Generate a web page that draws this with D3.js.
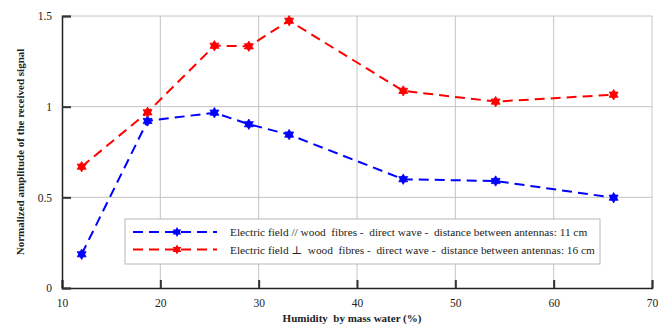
<!DOCTYPE html>
<html>
<head>
<meta charset="utf-8">
<script src="https://cdn.jsdelivr.net/npm/d3@7"></script>
<style>
  body { margin: 0; background: #fff; }
  svg text { font-family: "Liberation Serif", "DejaVu Serif", serif; white-space: pre; }
</style>
</head>
<body>
<div id="chart"></div>
<script>
const humidity = [12, 18.7, 25.5, 29, 33.1, 44.7, 54.1, 66.1];
const ampParallel = [0.186, 0.921, 0.967, 0.903, 0.846, 0.600, 0.590, 0.498];
const ampPerp = [0.669, 0.969, 1.336, 1.333, 1.474, 1.087, 1.028, 1.066];
const xTicks = [10, 20, 30, 40, 50, 60, 70];
const yTicks = [0, 0.5, 1, 1.5];
const seriesNames = [
  "Electric field // wood  fibres -  direct wave -  distance between antennas: 11 cm",
  "Electric field \u22a5  wood  fibres -  direct wave -  distance between antennas: 16 cm"
];
const seriesColors = ["#0000ff", "#ff0000"];

const W = 667, H = 325;
const margin = { top: 16, right: 15, bottom: 37, left: 62 };
const width = W - margin.left - margin.right;
const height = H - margin.top - margin.bottom;

const svg = d3.select("#chart").append("svg")
  .attr("width", W).attr("height", H);
const g = svg.append("g").attr("transform", `translate(${margin.left},${margin.top})`);

const x = d3.scaleLinear().domain([10, 70]).range([0, width]);
const y = d3.scaleLinear().domain([0, 1.5]).range([height, 0]);

// grid
g.selectAll(".vgrid").data(xTicks.slice(1)).enter().append("line")
  .attr("x1", d => x(d)).attr("x2", d => x(d))
  .attr("y1", 0).attr("y2", height)
  .attr("stroke", "#c4c4c4").attr("stroke-width", 1);
g.selectAll(".hgrid").data(yTicks.slice(1)).enter().append("line")
  .attr("x1", 0).attr("x2", width)
  .attr("y1", d => y(d)).attr("y2", d => y(d))
  .attr("stroke", "#c4c4c4").attr("stroke-width", 1);

// axes
const xAxis = g.append("g").attr("transform", `translate(0,${height})`)
  .call(d3.axisBottom(x).tickValues(xTicks).tickSize(-8).tickPadding(11).tickFormat(d3.format("d")));
const yAxis = g.append("g")
  .call(d3.axisLeft(y).tickValues(yTicks).tickSize(-9).tickPadding(10).tickFormat(d => String(d)));
[xAxis, yAxis].forEach(a => {
  a.attr("font-family", null).attr("font-size", null);
  a.select(".domain").attr("stroke", "#222").attr("stroke-width", 1.5);
  a.selectAll(".tick line").attr("stroke", "#333").attr("stroke-width", 2);
  a.selectAll("text").attr("fill", "#222").style("font-size", "11.5px");
});

// hexagram marker
function star(r) {
  const p = d3.path();
  const tri = a0 => {
    for (let i = 0; i < 3; i++) {
      const a = a0 + i * 2 * Math.PI / 3;
      const px = r * Math.sin(a), py = -r * Math.cos(a);
      if (i === 0) p.moveTo(px, py); else p.lineTo(px, py);
    }
    p.closePath();
  };
  tri(0); tri(Math.PI);
  return p.toString();
}

const line = d3.line().x(d => x(d[0])).y(d => y(d[1]));
[ampParallel, ampPerp].forEach((vals, i) => {
  const pts = humidity.map((h, j) => [h, vals[j]]);
  g.append("path").datum(pts)
    .attr("d", line).attr("fill", "none")
    .attr("stroke", seriesColors[i]).attr("stroke-width", 2)
    .attr("stroke-dasharray", "10 6");
  g.selectAll(".m" + i).data(pts).enter().append("path")
    .attr("transform", d => `translate(${x(d[0])},${y(d[1])})`)
    .attr("d", star(5.2))
    .attr("fill", seriesColors[i]).attr("stroke", seriesColors[i]).attr("stroke-width", 0.8);
});

// legend
const legend = svg.append("g").attr("transform", "translate(125,219)");
legend.append("rect").attr("width", 475).attr("height", 45)
  .attr("fill", "#fff").attr("stroke", "#b8b8b8").attr("stroke-width", 1);
seriesNames.forEach((name, i) => {
  const ly = 13 + i * 17.5;
  legend.append("line").attr("x1", 8).attr("x2", 92).attr("y1", ly).attr("y2", ly)
    .attr("stroke", seriesColors[i]).attr("stroke-width", 2).attr("stroke-dasharray", "10 6");
  legend.append("path").attr("transform", `translate(52,${ly})`).attr("d", star(5))
    .attr("fill", seriesColors[i]);
  legend.append("text").attr("x", 105).attr("y", ly + 4)
    .style("font-size", "11.3px").attr("fill", "#222").text(name);
});

// axis titles
svg.append("text")
  .attr("x", 352).attr("y", 322)
  .attr("text-anchor", "middle").style("font-size", "11px").style("font-weight", "bold")
  .attr("fill", "#222")
  .text("Humidity  by mass water (%)");
svg.append("text")
  .attr("transform", `translate(24,152) rotate(-90)`)
  .attr("text-anchor", "middle").style("font-size", "11px").style("font-weight", "bold")
  .attr("fill", "#222")
  .text("Normalized amplitude of the received signal");
</script>
</body>
</html>
